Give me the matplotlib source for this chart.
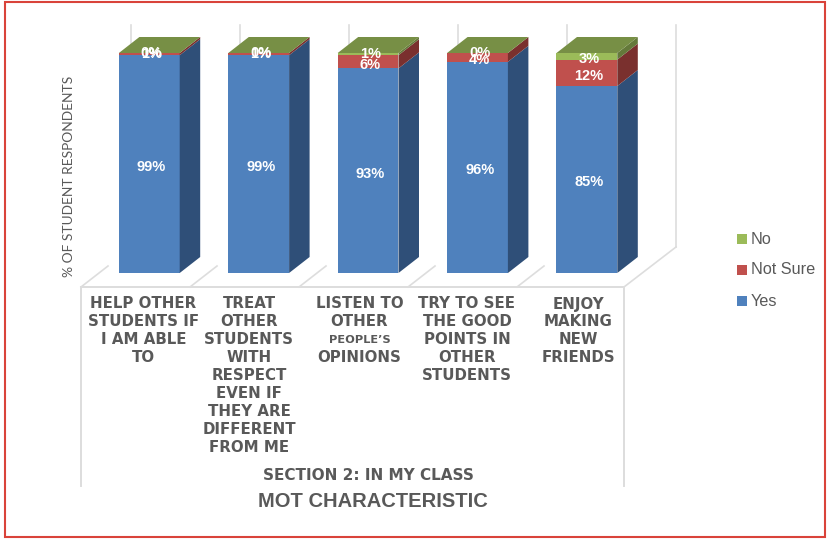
import matplotlib
matplotlib.use("Agg")
import matplotlib.pyplot as plt
from matplotlib.patches import Polygon, Rectangle
from matplotlib.transforms import ScaledTranslation

categories = ["HELP OTHER\nSTUDENTS IF\nI AM ABLE\nTO",
              "TREAT\nOTHER\nSTUDENTS\nWITH\nRESPECT\nEVEN IF\nTHEY ARE\nDIFFERENT\nFROM ME",
              "LISTEN TO\nOTHER\nPEOPLE\u2019S\nOPINIONS",
              "TRY TO SEE\nTHE GOOD\nPOINTS IN\nOTHER\nSTUDENTS",
              "ENJOY\nMAKING\nNEW\nFRIENDS"]
yes = [99, 99, 93, 96, 85]
not_sure = [1, 1, 6, 4, 12]
no = [0, 0, 1, 0, 3]
series_names = ["Yes", "Not Sure", "No"]
front = ["#4F81BD", "#C0504D", "#9BBB59"]
side = ["#2F4F78", "#7A302E", "#64793A"]
label_centers = [143.5, 249, 359.5, 467, 578]

W, H = 827, 539
fig = plt.figure(figsize=(W / 100, H / 100), dpi=100)
bg = fig.add_axes([0, 0, 1, 1])
bg.set_xlim(0, W); bg.set_ylim(H, 0); bg.axis("off")

# axes: x=-0.5..4.5 -> px 94.75..642.25, y=0..100 -> px 273..53
ax = fig.add_axes([94.6 / W, 1 - 273 / H, 547 / W, 220 / H])
ax.set_xlim(-0.5, 4.5); ax.set_ylim(0, 100); ax.axis("off")
ax.patch.set_alpha(0)

grey = "#DDDDDD"
txt = "#595959"
# frame
bg.add_patch(Rectangle((4.5, 2), 820.5, 535, fill=False, ec="#D9433A", lw=1.5))
# floor and wall
xs = [81 + 109.0 * i for i in range(6)]
for x in xs[:-1]:
    bg.plot([x, x + 27], [287, 266], color=grey, lw=1.2, zorder=1)
bg.plot([624, 676], [287, 247], color=grey, lw=1.2, zorder=1)
for x in xs[:-1]:
    bg.plot([x + 50, x + 50], [25, 60], color=grey, lw=1.2, zorder=1)
bg.plot([676, 676], [25, 247], color=grey, lw=1.2, zorder=1)
# category box
bg.plot([81, 624], [287, 287], color=grey, lw=1.4)
bg.plot([81, 81], [287, 486], color=grey, lw=1.4)
bg.plot([624, 624], [287, 486], color=grey, lw=1.4)

bw = 60.8 / 109.4
dx, dy = 20.5 / 109.4, 16 / 2.2
for i in range(len(categories)):
    b = 0
    l, r = i - bw / 2, i + bw / 2
    for k, vals in enumerate([yes, not_sure, no]):
        v = vals[i]
        if v > 0:
            ax.add_patch(Rectangle((l, b), bw, v, fc=front[k], ec="none", clip_on=False, zorder=3))
            ax.add_patch(Polygon([(r, b), (r + dx, b + dy), (r + dx, b + v + dy), (r, b + v)],
                                 fc=side[k], ec="none", clip_on=False, zorder=3))
        b += v
    ax.add_patch(Polygon([(l, 100), (l + dx, 100 + dy), (r + dx, 100 + dy), (r, 100)],
                         fc="#778F45", ec="none", clip_on=False, zorder=3))
    b = 0
    for k, vals in enumerate([yes, not_sure, no]):
        v = vals[i]
        ypos = b + v / 2
        if k == 2 and v == 0:
            ypos = 100
        shift = 0 if v <= 1 else -3 / 100
        ax.text(i + 0.02, ypos, f"{v}%", color="white", fontsize=10.5, fontweight="bold",
                ha="center", va="center", family="Liberation Sans", zorder=5, clip_on=False,
                transform=ax.transData + ScaledTranslation(0, shift, fig.dpi_scale_trans))
        b += v
    for j, line in enumerate(categories[i].split("\n")):
        small = line.startswith("PEOPLE")
        bg.text(label_centers[i], 304 + 17.9 * j, line, ha="center", va="center",
                family="DejaVu Sans", fontweight="bold", color=txt,
                fontsize=8.2 if small else 10.8, zorder=5)

bg.text(368, 476, "SECTION 2: IN MY CLASS", ha="center", va="center", family="DejaVu Sans",
        fontweight="bold", color=txt, fontsize=11)
bg.text(373, 501.5, "MOT CHARACTERISTIC", ha="center", va="center", family="Liberation Sans",
        fontweight="bold", color=txt, fontsize=14.5)
bg.text(69, 176.5, "% OF STUDENT RESPONDENTS", rotation=90, ha="center", va="center",
        family="Lato", color=txt, fontsize=9.9)

for name, c, y in zip(series_names[::-1], front[::-1], [239, 270, 301]):
    bg.add_patch(Rectangle((737, y - 5), 10, 10, fc=c, ec="none"))
    bg.text(751, y, name, ha="left", va="center", family="Liberation Sans", color=txt, fontsize=11.7)

fig.savefig("out.png", dpi=100)
